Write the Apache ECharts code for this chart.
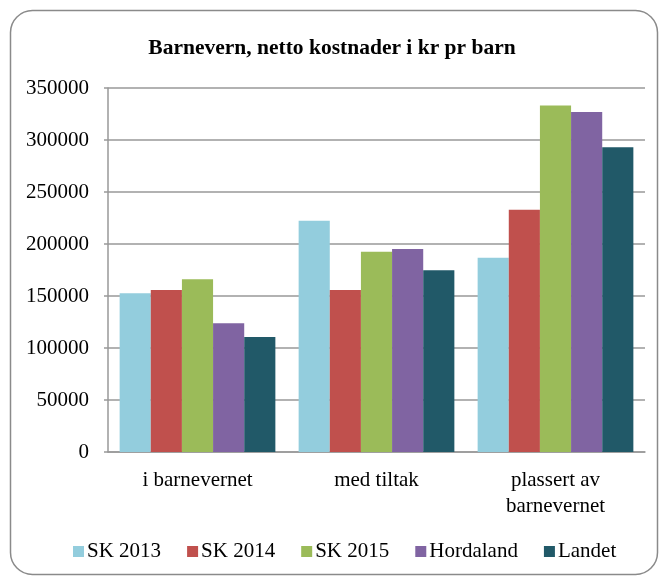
<!DOCTYPE html>
<html><head><meta charset="utf-8">
<script src="https://cdn.jsdelivr.net/npm/echarts@6/dist/echarts.min.js"></script>
<style>html,body{margin:0;padding:0;background:#fff}#c{width:664px;height:581px}</style>
</head><body><div id="c"></div>
<script>
var categories = ['i barnevernet', 'med tiltak', 'plassert av\nbarnevernet'];
var seriesNames = ['SK 2013', 'SK 2014', 'SK 2015', 'Hordaland', 'Landet'];
var sk2013 = [152600, 222400, 186800];
var sk2014 = [155800, 155800, 233000];
var sk2015 = [166000, 192600, 333200];
var hordaland = [123700, 195200, 327000];
var landet = [110600, 174700, 293000];
var yTicks = [0, 50000, 100000, 150000, 200000, 250000, 300000, 350000];
var colors = ['#93CDDD', '#C0504D', '#9BBB59', '#8064A2', '#215968'];
var values = [sk2013, sk2014, sk2015, hordaland, landet];
var font = 'Liberation Serif, Times New Roman, serif';

var chart = echarts.init(document.getElementById('c'));
chart.setOption({
  animation: false,
  textStyle: {fontFamily: font},
  graphic: [{
    type: 'rect', left: 8, top: 8,
    shape: {width: 647, height: 564, r: 22},
    style: {fill: 'none', stroke: '#8a8a8a', lineWidth: 1.5},
    silent: true
  }],
  title: {
    text: 'Barnevern, netto kostnader i kr pr barn',
    left: 'center', top: 32,
    textStyle: {fontFamily: font, fontWeight: 'bold', fontSize: 21.5, color: '#000'}
  },
  legend: {
    data: seriesNames, bottom: 14, left: 68,
    itemWidth: 11, itemHeight: 11, itemGap: 26,
    icon: 'rect',
    textStyle: {fontFamily: font, fontSize: 21, color: '#000', padding: [0, 0, 0, -2]}
  },
  grid: {left: 108, right: 19, top: 88, bottom: 129},
  xAxis: {
    type: 'category', data: categories,
    axisLine: {lineStyle: {color: '#999', width: 1.5}},
    axisTick: {show: false},
    axisLabel: {fontFamily: font, fontSize: 21, color: '#000', margin: 15, lineHeight: 26}
  },
  yAxis: {
    type: 'value', min: yTicks[0], max: yTicks[yTicks.length - 1], interval: 50000,
    axisLine: {show: true, lineStyle: {color: '#999', width: 1.5}},
    axisTick: {show: true, length: 4, lineStyle: {color: '#999', width: 1.5}},
    splitLine: {lineStyle: {color: '#999', width: 1.5}},
    axisLabel: {fontFamily: font, fontSize: 21, color: '#000', margin: 19,
      formatter: function (v) { return String(v); }}
  },
  series: seriesNames.map(function (n, i) {
    return {
      name: n, type: 'bar', data: values[i],
      itemStyle: {color: colors[i]},
      barGap: '0%', barCategoryGap: '13%'
    };
  })
});
</script></body></html>
